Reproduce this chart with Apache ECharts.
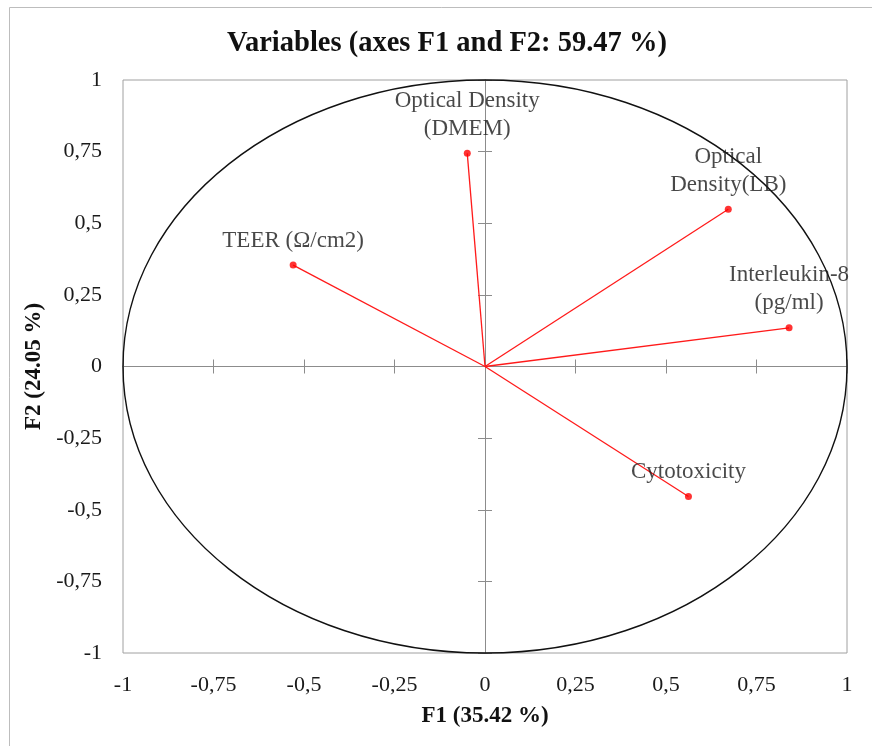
<!DOCTYPE html>
<html>
<head>
<meta charset="utf-8">
<script src="https://cdn.jsdelivr.net/npm/echarts@6/dist/echarts.min.js"></script>
<style>
html,body{margin:0;padding:0;background:#fff;}
#chart{width:872px;height:746px;}
</style>
</head>
<body>
<div id="chart"></div>
<script>
// Data
var variables = ['TEER (\u03A9/cm2)', 'Optical Density\n(DMEM)', 'Optical\nDensity(LB)', 'Interleukin-8\n(pg/ml)', 'Cytotoxicity'];
var f1 = [-0.530, -0.049, 0.672, 0.840, 0.562];
var f2 = [0.354, 0.744, 0.549, 0.135, -0.454];
var xTickLabels = ['-1', '-0,75', '-0,5', '-0,25', '0', '0,25', '0,5', '0,75', '1'];
var yTickLabels = ['-1', '-0,75', '-0,5', '-0,25', '0', '0,25', '0,5', '0,75', '1'];

var chart = echarts.init(document.getElementById('chart'));
var serif = "'Liberation Serif', 'Times New Roman', serif";

var points = f1.map(function (x, i) { return { value: [x, f2[i]], name: variables[i] }; });
var segments = f1.map(function (x, i) { return { coords: [[0, 0], [x, f2[i]]] }; });

function baseAxis(extra) {
  var a = {
    type: 'value', min: -1, max: 1, interval: 0.25,
    splitLine: { show: false },
    axisLine: { show: false, onZero: false },
    axisTick: { show: false },
    axisLabel: { show: false }
  };
  for (var k in extra) a[k] = extra[k];
  return a;
}

var lineStyleAxis = { color: '#8c8c8c', width: 1 };

var option = {
  animation: false,
  backgroundColor: '#fff',
  title: {
    text: 'Variables (axes F1 and F2: 59.47 %)',
    left: 222,
    top: 24,
    textStyle: { fontFamily: serif, fontWeight: 'bold', fontSize: 28.5, color: '#111' }
  },
  graphic: [{
    type: 'rect', shape: { x: 9.5, y: 7.5, width: 900, height: 800 },
    style: { fill: 'none', stroke: '#bdbdbd', lineWidth: 1 }, silent: true, z: -10
  }],
  grid: {
    left: 123, top: 80, width: 724, height: 573,
    show: true, borderColor: '#a0a0a0', borderWidth: 1, backgroundColor: 'transparent'
  },
  xAxis: [
    baseAxis({
      position: 'bottom',
      axisLabel: {
        show: true, margin: 21, fontFamily: serif, fontSize: 22, color: '#1a1a1a',
        formatter: function (v, i) { return xTickLabels[i]; }
      },
      name: 'F1 (35.42 %)', nameLocation: 'middle', nameGap: 52,
      nameTextStyle: { fontFamily: serif, fontWeight: 'bold', fontSize: 23, color: '#111' }
    }),
    baseAxis({
      axisLine: { show: true, onZero: true, onZeroAxisIndex: 0, lineStyle: lineStyleAxis },
      axisTick: { show: true, inside: true, length: 7, lineStyle: lineStyleAxis }
    }),
    baseAxis({
      axisLine: { show: false, onZero: true, onZeroAxisIndex: 0 },
      axisTick: { show: true, inside: false, length: 7, lineStyle: lineStyleAxis }
    })
  ],
  yAxis: [
    baseAxis({
      position: 'left',
      axisLabel: {
        show: true, margin: 21, fontFamily: serif, fontSize: 22, color: '#1a1a1a',
        formatter: function (v, i) { return yTickLabels[i]; }
      },
      name: 'F2 (24.05 %)', nameLocation: 'middle', nameGap: 76, nameRotate: 90,
      nameTextStyle: { fontFamily: serif, fontWeight: 'bold', fontSize: 23, color: '#111' }
    }),
    baseAxis({
      axisLine: { show: true, onZero: true, onZeroAxisIndex: 0, lineStyle: lineStyleAxis },
      axisTick: { show: true, inside: true, length: 7, lineStyle: lineStyleAxis }
    }),
    baseAxis({
      axisLine: { show: false, onZero: true, onZeroAxisIndex: 0 },
      axisTick: { show: true, inside: false, length: 7, lineStyle: lineStyleAxis }
    })
  ],
  series: [
    {
      type: 'custom',
      silent: true,
      data: [[0, 0]],
      z: 1,
      renderItem: function (params, api) {
        var c = api.coord([0, 0]);
        var r = api.coord([1, 1]);
        return {
          type: 'ellipse',
          shape: { cx: c[0], cy: c[1], rx: r[0] - c[0], ry: c[1] - r[1] },
          style: { fill: 'none', stroke: '#111', lineWidth: 1.4 }
        };
      }
    },
    {
      type: 'lines',
      coordinateSystem: 'cartesian2d',
      data: segments,
      lineStyle: { color: '#ff1a1a', width: 1.3, opacity: 1 },
      z: 3
    },
    {
      type: 'scatter',
      data: points,
      symbolSize: 7,
      itemStyle: { color: '#ff0000' },
      z: 4,
      label: {
        show: true, position: 'top', distance: 7,
        formatter: '{b}',
        fontFamily: serif, fontSize: 23, lineHeight: 28, color: '#1a1a1a', align: 'center'
      }
    }
  ]
};
chart.setOption(option);
</script>
</body>
</html>
